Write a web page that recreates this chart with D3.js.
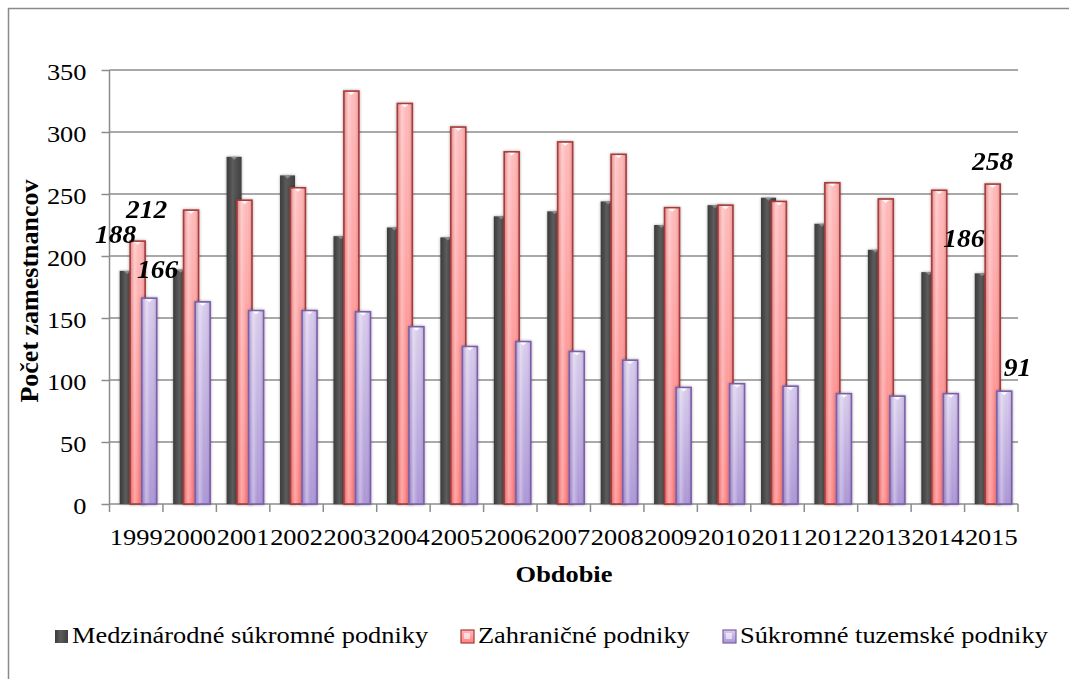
<!DOCTYPE html>
<html>
<head>
<meta charset="utf-8">
<script src="https://cdn.jsdelivr.net/npm/d3@7/dist/d3.min.js"></script>
<style>
  html, body { margin: 0; padding: 0; background: #fff; }
  svg { display: block; }
  svg text { font-family: "Liberation Serif", "Times New Roman", Times, serif; fill: #000; }
</style>
</head>
<body>
<svg id="chart" width="1069" height="679"></svg>
<script>
// Employee counts by enterprise type, 1999–2015
const years = ["1999","2000","2001","2002","2003","2004","2005","2006","2007","2008","2009","2010","2011","2012","2013","2014","2015"];
const seriesNames = ["Medzinárodné súkromné podniky", "Zahraničné podniky", "Súkromné tuzemské podniky"];
const medzinarodne = [188, 189, 280, 265, 216, 223, 215, 232, 236, 244, 225, 241, 247, 226, 205, 187, 186];
const zahranicne   = [212, 237, 245, 255, 333, 323, 304, 284, 292, 282, 239, 241, 244, 259, 246, 253, 258];
const tuzemske     = [166, 163, 156, 156, 155, 143, 127, 131, 123, 116,  94,  97,  95,  89,  87,  89,  91];
const yTicks = [0, 50, 100, 150, 200, 250, 300, 350];
// value labels: [series index, year]
const labelled = [[0, "1999"], [1, "1999"], [2, "1999"], [0, "2015"], [1, "2015"], [2, "2015"]];

const seriesValues = [medzinarodne, zahranicne, tuzemske];
const serif = '"Liberation Serif", "Times New Roman", Times, serif';

const svg = d3.select("#chart").attr("font-family", serif);
const stretch = 1.1;       // horizontal text stretch
const fs = 24;

const plot = { left: 109.5, right: 1018, top: 70, bottom: 504 };

const x0 = d3.scaleBand().domain(years).range([plot.left, plot.right]).padding(0);
const y = d3.scaleLinear().domain([0, 350]).range([plot.bottom, plot.top]);

const barW = 15;
const barCenter = [-9, 1.4, 13];   // offset of each series' bar centre from the band centre

// ---------- defs: gradients and shadow ----------
const defs = svg.append("defs");
function linGrad(id, horizontal, stops) {
  const g = defs.append("linearGradient").attr("id", id)
    .attr("x1", 0).attr("y1", 0).attr("x2", horizontal ? 1 : 0).attr("y2", horizontal ? 0 : 1);
  stops.forEach(s => g.append("stop").attr("offset", s[0]).attr("stop-color", s[1]).attr("stop-opacity", s[2] == null ? 1 : s[2]));
}
linGrad("gDark", true, [[0, "#3a3a3a"], [0.4, "#5c5c5c"], [1, "#404040"]]);
linGrad("gRedV", false, [[0, "#ffbaba"], [1, "#ff8282"]]);
linGrad("gPurV", false, [[0, "#d8ccec"], [1, "#ab96d6"]]);
linGrad("gRedH", true, [[0, "#a02828", 0.35], [0.3, "#ffffff", 0.3], [0.6, "#ffffff", 0.0], [1, "#a02828", 0.3]]);
linGrad("gPurH", true, [[0, "#5e3e90", 0.3], [0.3, "#ffffff", 0.35], [0.6, "#ffffff", 0.0], [1, "#5e3e90", 0.25]]);

const sh = defs.append("filter").attr("id", "shadow").attr("x", "-50%").attr("y", "-5%").attr("width", "200%").attr("height", "110%");
sh.append("feGaussianBlur").attr("in", "SourceAlpha").attr("stdDeviation", 1.6).attr("result", "b");
sh.append("feOffset").attr("in", "b").attr("dx", -0.5).attr("dy", 0).attr("result", "o");
sh.append("feComponentTransfer").attr("in", "o").attr("result", "s")
  .append("feFuncA").attr("type", "linear").attr("slope", 0.35);
const m = sh.append("feMerge");
m.append("feMergeNode").attr("in", "s");
m.append("feMergeNode").attr("in", "SourceGraphic");

// ---------- outer frame ----------
svg.append("rect").attr("x", 8.5).attr("y", 8.5).attr("width", 1100).attr("height", 700)
  .attr("fill", "none").attr("stroke", "#8a8a8a").attr("stroke-width", 1.5);

// ---------- gridlines ----------
svg.append("g").selectAll("line").data(yTicks.filter(t => t > 0)).join("line")
  .attr("x1", plot.left).attr("x2", plot.right)
  .attr("y1", d => y(d)).attr("y2", d => y(d))
  .attr("stroke", "#8c8c8c").attr("stroke-width", 1.5);

// ---------- axes ----------
const yAxis = svg.append("g").attr("transform", `translate(${plot.left},0)`)
  .call(d3.axisLeft(y).tickValues(yTicks).tickSize(8).tickFormat(d3.format("d")))
  .attr("font-family", serif);
yAxis.select(".domain").attr("stroke", "#8c8c8c").attr("stroke-width", 1.5).attr("d", `M0,${plot.top}V${plot.bottom}`);
yAxis.selectAll(".tick line").attr("stroke", "#8c8c8c").attr("stroke-width", 1.5);
yAxis.selectAll(".tick text").remove();
yAxis.selectAll(".tick").append("text")
  .attr("transform", `translate(-23,9) scale(${stretch},1)`)
  .attr("text-anchor", "end").attr("font-size", fs).attr("font-family", serif)
  .text(d => d);

const bounds = years.map(yr => x0(yr)).concat([plot.right]);
const xAxis = svg.append("g");
xAxis.append("line").attr("x1", plot.left).attr("x2", plot.right).attr("y1", plot.bottom).attr("y2", plot.bottom)
  .attr("stroke", "#8c8c8c").attr("stroke-width", 1.5);
xAxis.selectAll("line.tk").data(bounds).join("line").attr("class", "tk")
  .attr("x1", d => d).attr("x2", d => d).attr("y1", plot.bottom).attr("y2", plot.bottom + 8)
  .attr("stroke", "#8c8c8c").attr("stroke-width", 1.5);
xAxis.selectAll("text").data(years).join("text")
  .attr("transform", d => `translate(${x0(d) + x0.bandwidth() / 2},545) scale(${stretch},1)`)
  .attr("text-anchor", "middle").attr("font-size", fs).attr("font-family", serif)
  .text(d => d);

// ---------- bars ----------
function barX(si, yr) { return x0(yr) + x0.bandwidth() / 2 + barCenter[si] - barW / 2; }

// series 0: dark cylinders
const g0 = svg.append("g").attr("filter", "url(#shadow)");
g0.selectAll("rect").data(years).join("rect")
  .attr("x", (d, i) => barX(0, d)).attr("width", barW)
  .attr("y", (d, i) => y(medzinarodne[i])).attr("height", (d, i) => y(0) - y(medzinarodne[i]))
  .attr("fill", "url(#gDark)");
g0.selectAll("path.cap").data(years).join("path").attr("class", "cap")
  .attr("d", (d, i) => {
    const xx = barX(0, d), yy = y(medzinarodne[i]);
    return `M${xx + 4},${yy}L${xx + barW / 2},${yy + 3}L${xx + barW - 4},${yy}Z`;
  })
  .attr("fill", "#9a9a9a").attr("opacity", 0.8);

function lightBars(si, vals, vGrad, hGrad, stroke) {
  const g = svg.append("g").attr("filter", "url(#shadow)");
  const grp = g.selectAll("g").data(years).join("g");
  grp.append("rect")
    .attr("x", d => barX(si, d)).attr("width", barW)
    .attr("y", (d, i) => y(vals[i])).attr("height", (d, i) => y(0) - y(vals[i]))
    .attr("fill", `url(#${vGrad})`);
  grp.append("rect")
    .attr("x", d => barX(si, d)).attr("width", barW)
    .attr("y", (d, i) => y(vals[i])).attr("height", (d, i) => y(0) - y(vals[i]))
    .attr("fill", `url(#${hGrad})`)
    .attr("stroke", stroke).attr("stroke-width", 1.6);
  grp.append("path")
    .attr("d", (d, i) => {
      const xx = barX(si, d), yy = y(vals[i]) + 1;
      return `M${xx + 4},${yy}L${xx + barW / 2},${yy + 3}L${xx + barW - 4},${yy}Z`;
    })
    .attr("fill", "#ffffff").attr("opacity", 0.9);
}
lightBars(1, zahranicne, "gRedV", "gRedH", "#a83a3a");
lightBars(2, tuzemske, "gPurV", "gPurH", "#7c5fa8");

// ---------- value labels ----------
const labelOffset = [[-11.5, -28], [9, -23], [8.4, -20], [-18.4, -26], [0, -14], [13.3, -15]];
svg.append("g").selectAll("text").data(labelled).join("text")
  .attr("transform", (d, k) => {
    const [si, yr] = d;
    const i = years.indexOf(yr);
    const cx = x0(yr) + x0.bandwidth() / 2 + barCenter[si] + labelOffset[k][0];
    const cy = y(seriesValues[si][i]) + labelOffset[k][1];
    return `translate(${cx},${cy}) scale(${stretch},1)`;
  })
  .attr("text-anchor", "middle").attr("font-size", 25).attr("font-family", serif)
  .attr("font-weight", "bold").attr("font-style", "italic")
  .text(d => seriesValues[d[0]][years.indexOf(d[1])]);

// ---------- axis titles ----------
svg.append("text")
  .attr("transform", "translate(38,291) rotate(-90)")
  .attr("text-anchor", "middle").attr("font-size", 26).attr("font-weight", "bold").attr("font-family", serif)
  .text("Počet zamestnancov");
svg.append("text")
  .attr("transform", `translate(564,582) scale(${stretch},1)`)
  .attr("text-anchor", "middle").attr("font-size", fs).attr("font-weight", "bold").attr("font-family", serif)
  .text("Obdobie");

// ---------- legend ----------
const legendX = [55, 461, 723];
const lg = svg.append("g").selectAll("g").data(seriesNames).join("g")
  .attr("transform", (d, i) => `translate(${legendX[i]},630)`);
const markFill = ["url(#gDark)", "url(#gRedV)", "url(#gPurV)"];
const markStroke = ["none", "#a83a3a", "#7c5fa8"];
lg.append("rect").attr("width", 13).attr("height", 13)
  .attr("fill", (d, i) => markFill[i]).attr("stroke", (d, i) => markStroke[i]).attr("stroke-width", 1.2);
lg.filter((d, i) => i > 0).append("rect").attr("x", 3).attr("y", 3).attr("width", 6).attr("height", 6)
  .attr("fill", "#ffffff").attr("opacity", 0.6);
lg.append("text")
  .attr("transform", `translate(17,13) scale(${stretch},1)`)
  .attr("font-size", fs).attr("font-family", serif)
  .text(d => d);
</script>
</body>
</html>
